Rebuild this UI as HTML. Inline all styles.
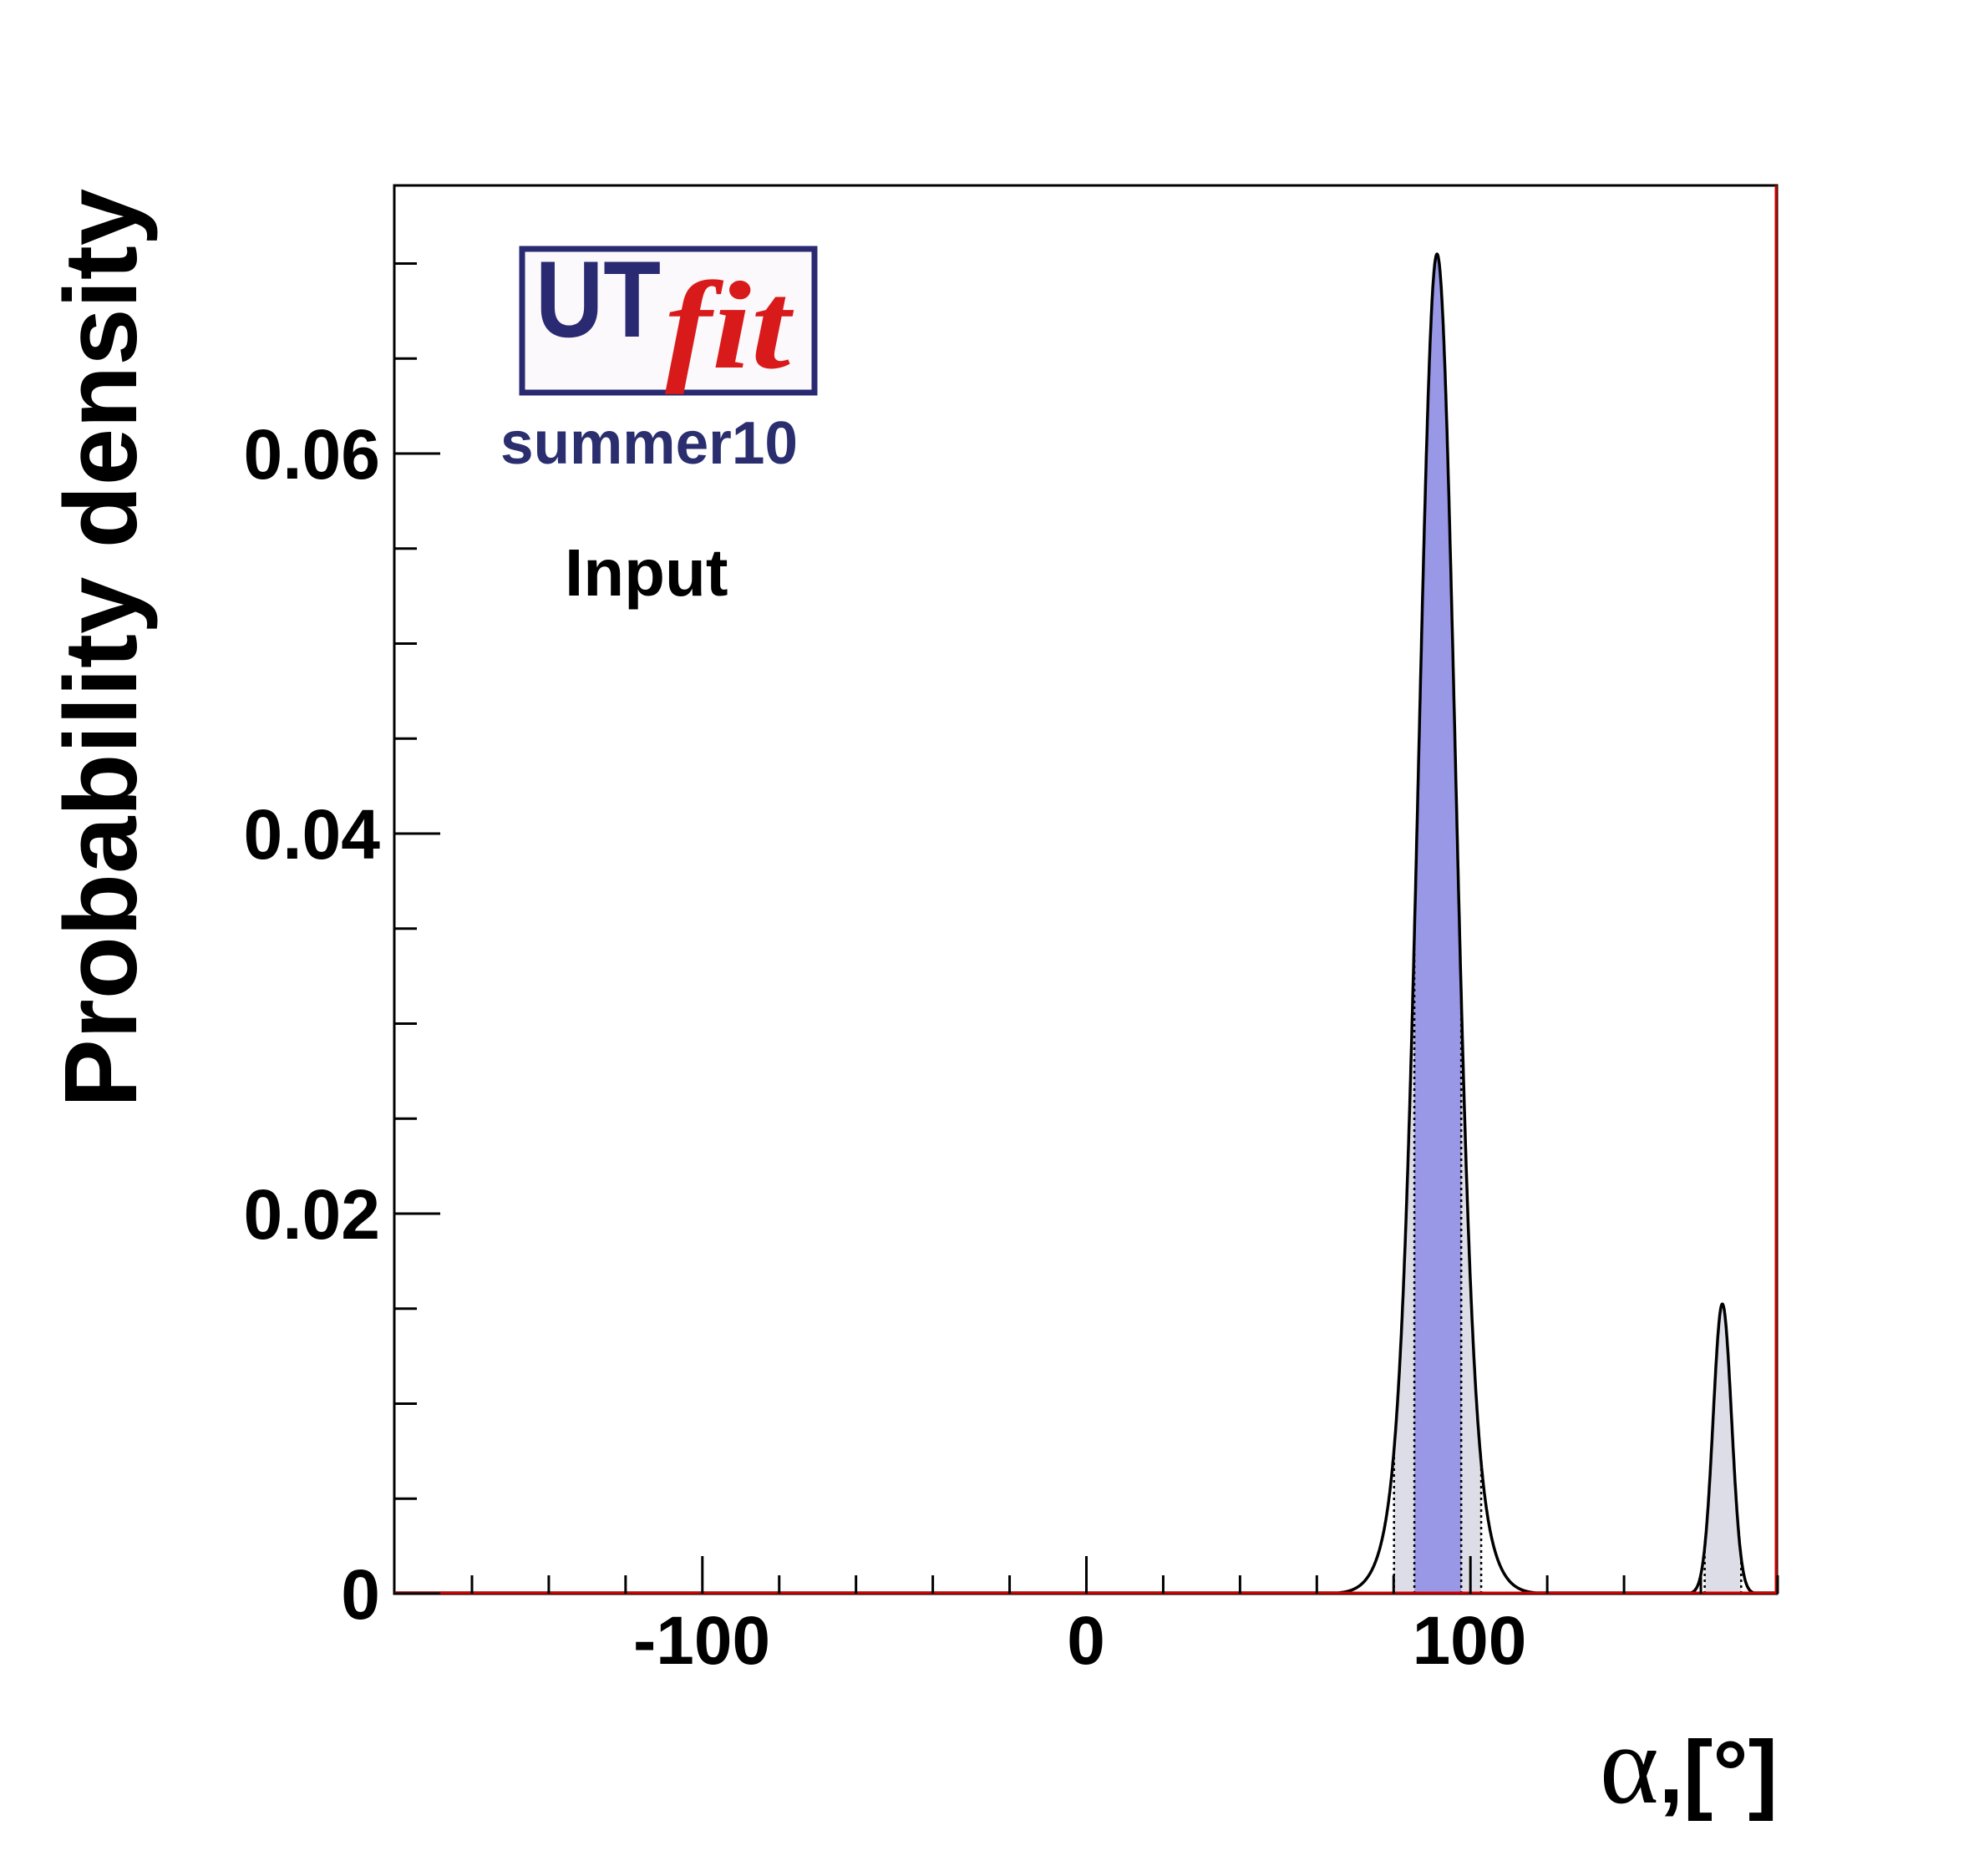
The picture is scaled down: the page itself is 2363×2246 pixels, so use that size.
<!DOCTYPE html>
<html><head><meta charset="utf-8"><style>
html,body{margin:0;padding:0;background:#fff;}
svg{display:block;}
text{font-family:"Liberation Sans",Arial,sans-serif;font-weight:bold;}
</style></head><body>
<svg id="s" width="2363" height="2246" viewBox="0 0 2363 2246" xmlns="http://www.w3.org/2000/svg">
<g id="fills"></g>
<g id="curve"></g>
<rect x="472" y="222" width="1655" height="1686" fill="none" stroke="#000" stroke-width="3"/>
<line x1="472" y1="1907" x2="2127" y2="1907" stroke="#d00000" stroke-width="3"/>
<line x1="2126" y1="222" x2="2126" y2="1908" stroke="#d00000" stroke-width="3"/>
<g id="ticks" stroke="#000" stroke-width="3"></g>
<g font-size="84" text-anchor="end">
<text x="455" y="1938">0</text>
<text x="455" y="1483">0.02</text>
<text x="455" y="1028">0.04</text>
<text x="455" y="573">0.06</text>
</g>
<g font-size="82" text-anchor="middle">
<text x="840" y="1992">-100</text>
<text x="1300" y="1992">0</text>
<text x="1759" y="1992">100</text>
</g>
<text transform="translate(163,776) rotate(-90)" font-size="123" text-anchor="middle">Probability density</text>
<text x="2128" y="2158" text-anchor="end" font-size="106"><tspan font-family="'Liberation Serif',serif" font-weight="normal" font-size="135" style="font-family:'Liberation Serif',serif">α</tspan>,[°]</text>
<rect x="625" y="298" width="350" height="172" fill="#fbf9fb" stroke="#2a2a72" stroke-width="7"/>
<text x="641" y="403" font-size="130" fill="#2a2a72" textLength="150" lengthAdjust="spacingAndGlyphs">UT</text>
<text x="796" y="440" font-size="150" fill="#d81a1a" font-style="italic" font-weight="normal" style="font-family:'Liberation Serif',serif" textLength="150" lengthAdjust="spacingAndGlyphs">fit</text>
<text x="599" y="555" font-size="72" fill="#2a2e6e" textLength="356" lengthAdjust="spacingAndGlyphs">summer10</text>
<text x="676" y="713" font-size="80" fill="#000">Input</text>
</svg>
<script>
(function(){
var NS="http://www.w3.org/2000/svg";
function X(a){return 1300.5+a*4.597;}
function Y(d){return 1908-d*22750;}
function f(a){
 var u=a-91.3;
 var d=0.055*Math.exp(-u*u/(2*4.5*4.5))+0.0155*Math.exp(-u*u/(2*7.5*7.5));
 d+=0.01525*Math.exp(-Math.pow(a-165.6,2)/(2*2.4*2.4));
 return d;
}
function el(t,at,p){var e=document.createElementNS(NS,t);for(var k in at)e.setAttribute(k,at[k]);p.appendChild(e);return e;}
function area(a0,a1,col){
 var s="M"+X(a0)+","+Y(0);
 for(var a=a0;a<=a1+1e-9;a+=0.1)s+=" L"+X(a).toFixed(1)+","+Y(f(a)).toFixed(1);
 s+=" L"+X(a1)+","+Y(0)+"Z";
 el("path",{d:s,fill:col},document.getElementById("fills"));
}
area(80.1,102.8,"#dcdde6");
area(161,170.5,"#dcdde6");
area(85.4,97.6,"#9898e6");
var g=document.getElementById("fills");
[80.1,85.4,97.6,102.8,161,170.5].forEach(function(a){
 el("line",{x1:X(a),y1:Y(0),x2:X(a),y2:Y(f(a)),stroke:"#000","stroke-width":2.5,"stroke-dasharray":"3,4"},g);
});
var s="";
for(var a=-180;a<=180;a+=0.1){s+=(s?" L":"M")+X(a).toFixed(1)+","+Math.min(1907,Y(f(a))).toFixed(1);}
el("path",{d:s,fill:"none",stroke:"#000","stroke-width":3.5,"stroke-linejoin":"round"},document.getElementById("curve"));
var t=document.getElementById("ticks");
for(var v=0;v<=0.0741;v+=0.005){
 var y=Y(v), maj=Math.abs(v/0.02-Math.round(v/0.02))<1e-6;
 el("line",{x1:472,y1:y,x2:472+(maj?55:27),y2:y},t);
}
for(var a=-160;a<=180;a+=20){
 var maj=(a%100==0);
 el("line",{x1:X(a),y1:1908,x2:X(a),y2:1908-(maj?45:22)},t);
}
})();
</script>
</body></html>
